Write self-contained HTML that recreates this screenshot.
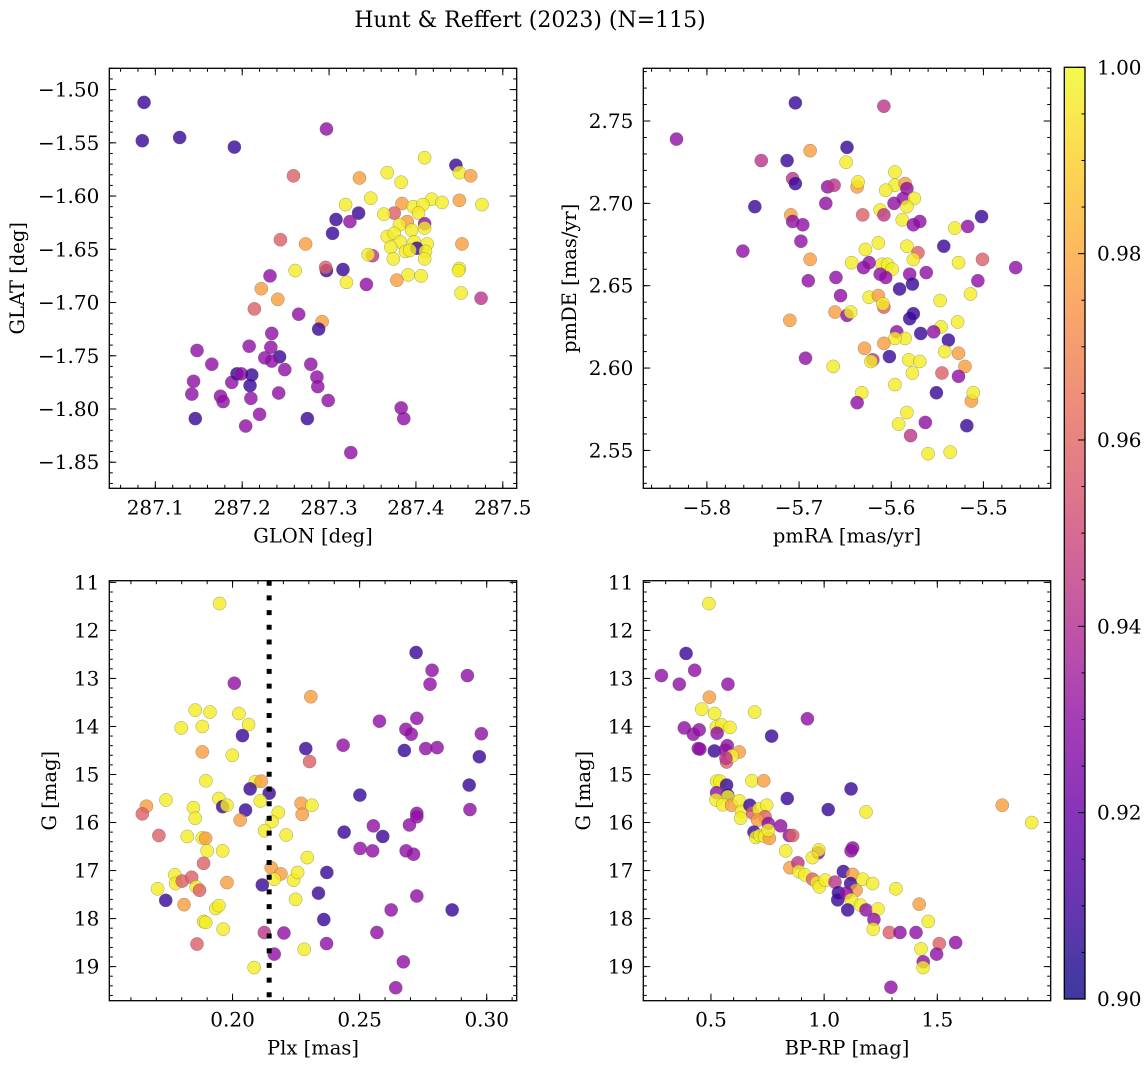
<!DOCTYPE html>
<html><head><meta charset="utf-8">
<style>
html,body{margin:0;padding:0;background:#fff;}
svg{display:block;}
text{font-family:"DejaVu Serif","Liberation Serif",serif;fill:#000;}
</style></head>
<body>
<svg id="fig" xmlns="http://www.w3.org/2000/svg" width="1148" height="1067" viewBox="0 0 1148 1067">
<rect x="0" y="0" width="1148" height="1067" fill="#fff"/>
<text x="530" y="27" font-size="22" text-anchor="middle">Hunt &amp; Reffert (2023) (N=115)</text>
</svg>
<script>
// ---------- Panel 1: GLON vs GLAT ----------
const p1Glon=[287.087,287.085,287.128,287.191,287.297,287.259,287.335,287.367,287.383,287.410,287.446,287.450,287.463,287.348,287.319,287.384,287.418,287.430,287.450,287.476,287.308,287.334,287.324,287.304,287.244,287.273,287.375,287.363,287.397,287.408,287.403,287.390,287.410,287.381,287.395,287.410,287.367,287.375,287.382,287.398,287.413,287.371,287.388,287.401,287.393,287.411,287.410,287.374,287.350,287.345,287.453,287.450,287.449,287.452,287.475,287.391,287.406,287.378,287.343,287.320,287.316,287.297,287.296,287.261,287.232,287.222,287.241,287.214,287.265,287.292,287.288,287.234,287.208,287.233,287.243,287.226,287.234,287.249,287.148,287.165,287.144,287.142,287.175,287.178,287.188,287.194,287.199,287.211,287.209,287.210,287.220,287.204,287.242,287.146,287.275,287.279,287.286,287.287,287.299,287.325,287.383,287.386];
const p1Glat=[-1.512,-1.548,-1.545,-1.554,-1.537,-1.581,-1.583,-1.578,-1.587,-1.564,-1.571,-1.578,-1.581,-1.602,-1.608,-1.607,-1.603,-1.606,-1.604,-1.608,-1.622,-1.616,-1.624,-1.635,-1.641,-1.645,-1.616,-1.617,-1.610,-1.608,-1.616,-1.624,-1.626,-1.627,-1.632,-1.630,-1.638,-1.635,-1.643,-1.643,-1.645,-1.648,-1.652,-1.649,-1.651,-1.652,-1.659,-1.659,-1.656,-1.655,-1.645,-1.668,-1.670,-1.691,-1.696,-1.674,-1.675,-1.679,-1.683,-1.681,-1.669,-1.670,-1.667,-1.670,-1.675,-1.687,-1.697,-1.706,-1.711,-1.718,-1.725,-1.729,-1.741,-1.742,-1.751,-1.752,-1.755,-1.763,-1.745,-1.758,-1.774,-1.786,-1.788,-1.793,-1.775,-1.767,-1.767,-1.768,-1.778,-1.790,-1.805,-1.816,-1.785,-1.809,-1.809,-1.758,-1.770,-1.779,-1.792,-1.841,-1.799,-1.809];
const p1Prob=[0.908,0.908,0.908,0.908,0.930,0.958,0.977,0.997,0.997,0.997,0.908,0.997,0.977,0.997,0.997,0.977,0.997,0.997,0.977,0.997,0.908,0.908,0.930,0.908,0.958,0.977,0.958,0.997,0.997,0.997,0.997,0.977,0.930,0.997,0.997,0.997,0.997,0.997,0.997,0.997,0.997,0.997,0.997,0.908,0.997,0.997,0.997,0.997,0.943,0.997,0.977,0.997,0.997,0.997,0.943,0.997,0.997,0.977,0.930,0.997,0.908,0.908,0.958,0.997,0.930,0.977,0.977,0.958,0.930,0.977,0.908,0.930,0.930,0.930,0.908,0.930,0.930,0.930,0.930,0.930,0.930,0.930,0.930,0.930,0.930,0.908,0.930,0.908,0.908,0.930,0.930,0.930,0.930,0.908,0.908,0.930,0.930,0.930,0.930,0.930,0.930,0.930];
const p1XTicks=[287.1,287.2,287.3,287.4,287.5];
const p1YTicks=[-1.50,-1.55,-1.60,-1.65,-1.70,-1.75,-1.80,-1.85];

// ---------- Panel 2: pmRA vs pmDE ----------
const p2Pmra=[-5.833,-5.704,-5.608,-5.741,-5.713,-5.688,-5.648,-5.649,-5.707,-5.704,-5.669,-5.662,-5.637,-5.636,-5.596,-5.596,-5.585,-5.583,-5.606,-5.671,-5.748,-5.709,-5.707,-5.696,-5.631,-5.612,-5.608,-5.597,-5.587,-5.575,-5.583,-5.588,-5.576,-5.569,-5.531,-5.517,-5.502,-5.698,-5.761,-5.688,-5.628,-5.614,-5.583,-5.571,-5.576,-5.543,-5.643,-5.624,-5.630,-5.610,-5.604,-5.599,-5.612,-5.606,-5.580,-5.562,-5.577,-5.527,-5.501,-5.465,-5.506,-5.690,-5.660,-5.655,-5.591,-5.624,-5.614,-5.608,-5.609,-5.547,-5.514,-5.710,-5.661,-5.648,-5.644,-5.580,-5.576,-5.546,-5.528,-5.594,-5.585,-5.596,-5.568,-5.554,-5.538,-5.608,-5.629,-5.620,-5.622,-5.602,-5.693,-5.663,-5.581,-5.569,-5.577,-5.542,-5.527,-5.520,-5.545,-5.527,-5.596,-5.632,-5.637,-5.551,-5.513,-5.511,-5.583,-5.592,-5.563,-5.518,-5.579,-5.560,-5.536];
const p2Pmde=[2.739,2.761,2.759,2.726,2.726,2.732,2.734,2.725,2.715,2.712,2.710,2.711,2.710,2.713,2.719,2.711,2.712,2.709,2.708,2.700,2.698,2.693,2.689,2.687,2.693,2.696,2.693,2.700,2.703,2.703,2.698,2.690,2.687,2.689,2.685,2.686,2.692,2.677,2.671,2.666,2.672,2.676,2.674,2.670,2.666,2.674,2.664,2.664,2.661,2.663,2.663,2.660,2.657,2.655,2.657,2.658,2.651,2.664,2.666,2.661,2.653,2.653,2.655,2.644,2.648,2.643,2.644,2.637,2.639,2.641,2.645,2.629,2.634,2.632,2.634,2.630,2.633,2.625,2.628,2.622,2.618,2.618,2.621,2.622,2.617,2.615,2.612,2.605,2.604,2.607,2.606,2.601,2.605,2.604,2.597,2.610,2.609,2.601,2.597,2.595,2.590,2.585,2.579,2.585,2.580,2.585,2.573,2.566,2.567,2.565,2.559,2.548,2.549];
const p2Prob=[0.930,0.908,0.943,0.943,0.908,0.977,0.908,0.997,0.943,0.908,0.930,0.943,0.977,0.997,0.997,0.997,0.977,0.930,0.997,0.930,0.908,0.977,0.930,0.930,0.958,0.997,0.943,0.930,0.930,0.997,0.997,0.997,0.930,0.930,0.997,0.930,0.908,0.930,0.930,0.977,0.997,0.997,0.997,0.958,0.997,0.908,0.997,0.930,0.930,0.997,0.997,0.997,0.930,0.930,0.930,0.930,0.908,0.997,0.958,0.930,0.930,0.930,0.930,0.930,0.908,0.997,0.977,0.958,0.997,0.997,0.997,0.977,0.977,0.930,0.997,0.908,0.908,0.997,0.997,0.930,0.997,0.997,0.908,0.930,0.908,0.977,0.977,0.943,0.997,0.908,0.930,0.997,0.997,0.997,0.997,0.997,0.977,0.977,0.958,0.930,0.997,0.997,0.930,0.908,0.977,0.997,0.997,0.997,0.930,0.908,0.943,0.997,0.997];
const p2XTicks=[-5.8,-5.7,-5.6,-5.5];
const p2YTicks=[2.55,2.60,2.65,2.70,2.75];

// ---------- Panel 3: Plx vs G ----------
const p3Plx=[0.1949,0.2722,0.2785,0.2777,0.2924,0.2007,0.2308,0.1853,0.1911,0.2025,0.2063,0.1798,0.1881,0.2039,0.2578,0.2725,0.2682,0.2703,0.2979,0.2435,0.2288,0.2676,0.2760,0.2805,0.2971,0.1881,0.1999,0.2303,0.1895,0.2090,0.2113,0.2069,0.2144,0.2501,0.2931,0.1738,0.1661,0.1645,0.1846,0.1853,0.1946,0.1961,0.1978,0.2051,0.2030,0.2109,0.2180,0.2155,0.2126,0.2270,0.2312,0.2274,0.2211,0.1710,0.1822,0.1881,0.1894,0.1900,0.1961,0.1886,0.2294,0.2439,0.2554,0.2591,0.2502,0.2551,0.2696,0.2725,0.2725,0.2934,0.2683,0.2712,0.1773,0.1776,0.1802,0.1839,0.1857,0.1870,0.1705,0.1737,0.1809,0.1934,0.1946,0.1978,0.2152,0.2190,0.2164,0.2240,0.2256,0.2117,0.2248,0.2371,0.2338,0.2359,0.2370,0.2202,0.2125,0.2164,0.2282,0.2085,0.1886,0.1894,0.1963,0.1860,0.2725,0.2624,0.2864,0.2568,0.2672,0.2642];
const p3G=[11.44,12.46,12.83,13.12,12.94,13.10,13.38,13.66,13.70,13.73,13.96,14.03,14.00,14.19,13.89,13.83,14.06,14.16,14.15,14.39,14.46,14.50,14.46,14.44,14.63,14.53,14.60,14.73,15.13,15.15,15.14,15.30,15.39,15.43,15.22,15.53,15.66,15.82,15.69,15.91,15.50,15.67,15.64,15.74,15.95,15.55,15.79,15.98,16.17,15.60,15.64,15.83,16.26,16.27,16.29,16.32,16.33,16.59,16.59,16.85,16.73,16.20,16.07,16.29,16.54,16.59,16.05,15.81,15.88,15.73,16.59,16.66,17.09,17.27,17.22,17.14,17.34,17.41,17.38,17.62,17.71,17.79,17.73,17.25,16.94,17.07,17.18,17.20,17.04,17.30,17.60,17.04,17.47,18.02,18.52,18.30,18.29,18.74,18.64,19.02,18.06,18.08,18.22,18.53,17.53,17.82,17.82,18.29,18.90,19.44];
const p3Prob=[0.997,0.908,0.930,0.930,0.930,0.930,0.977,0.997,0.997,0.997,0.997,0.997,0.997,0.908,0.930,0.930,0.930,0.930,0.930,0.930,0.908,0.908,0.930,0.930,0.908,0.977,0.997,0.958,0.997,0.997,0.977,0.908,0.908,0.908,0.908,0.997,0.977,0.958,0.997,0.997,0.997,0.908,0.997,0.908,0.977,0.997,0.997,0.997,0.997,0.977,0.997,0.977,0.997,0.958,0.997,0.997,0.977,0.997,0.997,0.958,0.997,0.908,0.930,0.908,0.930,0.930,0.930,0.930,0.930,0.930,0.930,0.930,0.997,0.997,0.958,0.958,0.997,0.958,0.997,0.908,0.977,0.997,0.997,0.977,0.977,0.977,0.997,0.997,0.997,0.908,0.997,0.908,0.908,0.908,0.930,0.930,0.943,0.930,0.997,0.997,0.997,0.997,0.997,0.958,0.930,0.930,0.908,0.930,0.930,0.930];
const p3XTicks=[0.20,0.25,0.30];
const p3YTicks=[11,12,13,14,15,16,17,18,19];
const p3PlxCut=0.2144;

// ---------- Panel 4: BP-RP vs G ----------
const p4Color=[0.491,0.390,0.281,0.360,0.428,0.575,0.493,0.459,0.516,0.693,0.926,0.382,0.422,0.448,0.524,0.547,0.584,0.527,0.768,0.444,0.451,0.515,0.572,0.563,0.569,0.625,0.594,0.566,0.525,0.540,0.681,0.733,0.569,0.525,0.574,0.574,0.522,0.552,0.591,0.625,0.635,0.631,0.672,0.684,0.712,0.746,0.739,0.706,0.753,0.808,0.837,1.018,1.119,1.185,0.690,0.698,0.716,0.737,0.758,0.753,0.846,0.861,0.830,0.974,0.976,0.948,1.119,1.126,0.849,0.884,0.888,0.915,0.949,0.968,0.979,1.005,1.048,1.085,1.126,1.117,1.141,1.170,1.214,1.063,1.060,1.099,1.120,1.161,1.185,1.104,1.238,1.220,1.217,1.317,1.288,1.335,1.406,1.420,1.460,1.509,1.581,1.497,1.428,1.438,1.437,1.295,1.787,1.917];
const p4G=[11.44,12.48,12.94,13.12,12.83,13.12,13.39,13.64,13.73,13.70,13.84,14.03,14.16,14.07,14.01,13.97,14.02,14.14,14.20,14.46,14.47,14.51,14.40,14.49,14.74,14.53,14.61,14.66,15.14,15.14,15.13,15.13,15.22,15.38,15.43,15.46,15.53,15.63,15.64,15.55,15.77,15.91,15.64,15.80,15.72,15.64,15.88,15.95,16.02,16.07,15.50,15.73,15.30,15.78,16.20,16.31,16.27,16.29,16.33,16.16,16.27,16.27,16.59,16.63,16.57,16.73,16.59,16.53,16.94,16.84,17.02,17.09,17.18,17.25,17.34,17.20,17.24,17.02,17.08,17.27,17.41,17.18,17.27,17.46,17.61,17.47,17.61,17.72,17.82,17.82,17.80,18.02,18.22,17.38,18.29,18.29,18.29,17.70,18.06,18.52,18.50,18.74,18.63,18.90,19.02,19.43,15.64,16.00];
const p4Prob=[0.997,0.908,0.930,0.930,0.930,0.930,0.977,0.997,0.997,0.997,0.930,0.930,0.930,0.930,0.997,0.997,0.997,0.930,0.908,0.930,0.930,0.908,0.930,0.930,0.958,0.977,0.997,0.943,0.997,0.997,0.997,0.977,0.908,0.930,0.908,0.997,0.997,0.997,0.977,0.997,0.997,0.997,0.908,0.958,0.997,0.997,0.958,0.977,0.930,0.930,0.908,0.908,0.908,0.997,0.908,0.997,0.997,0.997,0.977,0.997,0.930,0.958,0.997,0.930,0.997,0.997,0.930,0.930,0.977,0.943,0.997,0.997,0.958,0.997,0.997,0.997,0.943,0.908,0.977,0.908,0.977,0.997,0.997,0.908,0.908,0.930,0.997,0.997,0.930,0.908,0.997,0.930,0.997,0.997,0.958,0.930,0.930,0.977,0.997,0.958,0.930,0.930,0.997,0.930,0.997,0.930,0.977,0.997];
const p4XTicks=[0.5,1.0,1.5];
const p4YTicks=[11,12,13,14,15,16,17,18,19];

// ---------- Colorbar ----------
const cbTicks=[0.90,0.92,0.94,0.96,0.98,1.00];

const NS='http://www.w3.org/2000/svg';
const svg=document.getElementById('fig');
function mk(tag,attrs,parent){const e=document.createElementNS(NS,tag);for(const k in attrs)e.setAttribute(k,attrs[k]);(parent||svg).appendChild(e);return e;}

const PL=['#0d0887','#41049d','#6a00a8','#8f0da4','#b12a90','#cc4778','#e16462','#f2844b','#fca636','#fcce25','#f0f921'];
function hex2rgb(h){return [parseInt(h.substr(1,2),16),parseInt(h.substr(3,2),16),parseInt(h.substr(5,2),16)];}
function plasma(t){t=Math.max(0,Math.min(1,t));const f=t*10;const i=Math.min(9,Math.floor(f));const u=f-i;const a=hex2rgb(PL[i]),b=hex2rgb(PL[i+1]);return 'rgb('+a.map((v,k)=>Math.round(v+(b[k]-v)*u)).join(',')+')';}
function probColor(p){return plasma((p-0.9)/0.1);}
function fmt(v,d){const s=Math.abs(v).toFixed(d);return (v<0?'\u2212':'')+s;}

const TICK_FS=20, LABEL_FS=19.5;

function panel(cfg){
  const g=mk('g',{});
  
  
  const {x0,x1,y0,y1}=cfg;
  const sx=v=>x0+(v-cfg.xlo)/(cfg.xhi-cfg.xlo)*(x1-x0);
  const sy=v=>y1-(v-cfg.ylo)/(cfg.yhi-cfg.ylo)*(y1-y0);
  const cid='clip-'+cfg.name;
  const cp=mk('clipPath',{id:cid},g);mk('rect',{x:x0,y:y0,width:x1-x0,height:y1-y0},cp);
  const pts=mk('g',{'clip-path':'url(#'+cid+')'},g);
  
  
  for(let i=0;i<cfg.xs.length;i++){
    const c=mk('circle',{cx:sx(cfg.xs[i]).toFixed(2),cy:sy(cfg.ys[i]).toFixed(2),r:6.6,fill:probColor(cfg.ps[i]),'fill-opacity':0.8,stroke:'rgba(90,90,90,0.55)','stroke-width':0.5},pts);
    
    
  }
  if(cfg.extra)cfg.extra(pts,sx,sy);
  const tk=mk('g',{stroke:'#000','stroke-width':1},g);
  
  
  const minorX=[],minorY=[];
  for(let k=Math.ceil(cfg.xlo/cfg.xmin);k*cfg.xmin<=cfg.xhi;k++)minorX.push(k*cfg.xmin);
  const ylo=Math.min(cfg.ylo,cfg.yhi),yhi=Math.max(cfg.ylo,cfg.yhi);
  for(let k=Math.ceil(ylo/cfg.ymin);k*cfg.ymin<=yhi;k++)minorY.push(k*cfg.ymin);
  minorX.forEach(v=>{const x=sx(v);mk('line',{x1:x,x2:x,y1:y1,y2:y1-3.5},tk);mk('line',{x1:x,x2:x,y1:y0,y2:y0+3.5},tk);});
  minorY.forEach(v=>{const y=sy(v);mk('line',{x1:x0,x2:x0+3.5,y1:y,y2:y},tk);mk('line',{x1:x1,x2:x1-3.5,y1:y,y2:y},tk);});
  cfg.xt.forEach(v=>{const x=sx(v);mk('line',{x1:x,x2:x,y1:y1,y2:y1-7},tk);mk('line',{x1:x,x2:x,y1:y0,y2:y0+7},tk);
    const t=mk('text',{x:x,y:y1+26,'font-size':TICK_FS,'text-anchor':'middle'},g);t.textContent=fmt(v,cfg.xd);
    
    });
  cfg.yt.forEach(v=>{const y=sy(v);mk('line',{x1:x0,x2:x0+7,y1:y,y2:y},tk);mk('line',{x1:x1,x2:x1-7,y1:y,y2:y},tk);
    const t=mk('text',{x:x0-10,y:y+7,'font-size':TICK_FS,'text-anchor':'end'},g);t.textContent=fmt(v,cfg.yd);
    
    });
  const fr=mk('rect',{x:x0,y:y0,width:x1-x0,height:y1-y0,fill:'none',stroke:'#000','stroke-width':1.3},g);
  
  
  const xl=mk('text',{x:(x0+x1)/2,y:y1+54,'font-size':LABEL_FS,'text-anchor':'middle'},g);xl.textContent=cfg.xlabel;
  
  
  const yl=mk('text',{x:0,y:0,'font-size':LABEL_FS,'text-anchor':'middle',transform:'translate('+cfg.ylx+','+((y0+y1)/2)+') rotate(-90)'},g);yl.textContent=cfg.ylabel;
  
  
}

panel({name:'glon-glat-panel',x0:109.3,x1:516.7,y0:68.3,y1:488.3,xlo:287.047,xhi:287.516,ylo:-1.8745,yhi:-1.480,xs:p1Glon,ys:p1Glat,ps:p1Prob,xt:p1XTicks,yt:p1YTicks,xd:1,yd:2,xmin:0.02,ymin:0.01,xlabel:'GLON [deg]',ylabel:'GLAT [deg]',ylx:24});
panel({name:'pm-panel',x0:643.3,x1:1050.7,y0:68.3,y1:488.3,xlo:-5.869,xhi:-5.427,ylo:2.527,yhi:2.782,xs:p2Pmra,ys:p2Pmde,ps:p2Prob,xt:p2XTicks,yt:p2YTicks,xd:1,yd:2,xmin:0.02,ymin:0.01,xlabel:'pmRA [mas/yr]',ylabel:'pmDE [mas/yr]',ylx:576});
panel({name:'plx-g-panel',x0:109.3,x1:516.7,y0:580.7,y1:1000.7,xlo:0.1515,xhi:0.3118,ylo:19.71,yhi:10.965,xs:p3Plx,ys:p3G,ps:p3Prob,xt:p3XTicks,yt:p3YTicks,xd:2,yd:0,xmin:0.01,ymin:0.2,xlabel:'Plx [mas]',ylabel:'G [mag]',ylx:56,
  extra:(g,sx,sy)=>{const l=mk('line',{x1:sx(p3PlxCut),x2:sx(p3PlxCut),y1:580.7,y2:1000.7,stroke:'#000','stroke-width':5,'stroke-dasharray':'5 9.7'},g);
    
    }});
panel({name:'cmd-panel',x0:643.3,x1:1050.7,y0:580.7,y1:1000.7,xlo:0.201,xhi:2.001,ylo:19.71,yhi:10.965,xs:p4Color,ys:p4G,ps:p4Prob,xt:p4XTicks,yt:p4YTicks,xd:1,yd:0,xmin:0.1,ymin:0.2,xlabel:'BP-RP [mag]',ylabel:'G [mag]',ylx:590});

(function(){
  const cx0=1064.3,cx1=1085,cy0=67.3,cy1=999;
  const cg=mk('g',{});
  
  
  const defs=mk('defs',{},cg);
  const lg=mk('linearGradient',{id:'cbgrad',x1:0,y1:1,x2:0,y2:0},defs);
  for(let i=0;i<=20;i++){mk('stop',{offset:(i/20),'stop-color':plasma(i/20),'stop-opacity':0.8},lg);}
  mk('rect',{x:cx0,y:cy0,width:cx1-cx0,height:cy1-cy0,fill:'url(#cbgrad)'},cg);
  const sy=v=>cy1-(v-0.90)/0.10*(cy1-cy0);
  for(let k=180;k<=200;k++){const y=sy(k*0.005);mk('line',{x1:cx1,x2:cx1-(k%4===0?7:3.5),y1:y,y2:y,stroke:'#000','stroke-width':1},cg);}
  cbTicks.forEach(v=>{const t=mk('text',{x:cx1+12,y:sy(v)+7,'font-size':TICK_FS},cg);t.textContent=v.toFixed(2);
    
    });
  mk('rect',{x:cx0,y:cy0,width:cx1-cx0,height:cy1-cy0,fill:'none',stroke:'#000','stroke-width':1.3},cg);
})();
</script>
</body></html>
